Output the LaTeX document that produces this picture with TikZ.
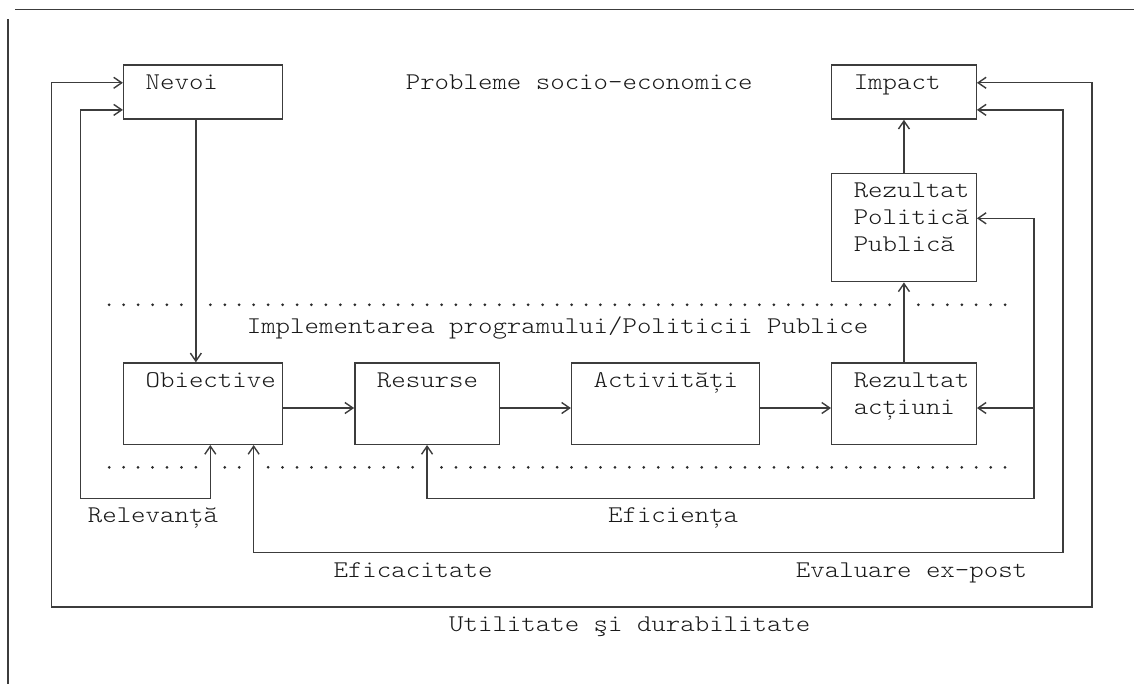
\documentclass[tikz,border=0pt]{standalone}
\usepackage{fontspec}
\usetikzlibrary{arrows.meta,fit}

\newfontfamily\asciifont{lmmonolt10-regular}[Extension=.otf,FakeStretch=1.147]

\definecolor{Ink}{HTML}{3C3C3C}
\definecolor{Dots}{HTML}{2A2A2A}

\begin{document}
\begin{tikzpicture}[x=7.225pt, y=-13.55pt, color=Ink,
  >={Straight Barb[length=4pt,width=5.5pt]},
  box/.style={draw=Ink, line width=0.7pt, inner sep=0pt},
  lbl/.style={anchor=base west, inner sep=0pt, text=black!90,
    font=\asciifont\fontsize{12}{13.55}\selectfont},
  link/.style={draw=Ink, line width=0.7pt},
  dots/.style={line width=1.5pt, line cap=round, dash pattern=on 0pt off 7.225pt, color=Dots}]

  \useasboundingbox (-0.554,-0.295) rectangle (77.92,24.91) ;

  %%%%%%%%%% Grid columns and rows %%%%%%%%%%
  \foreach \c in {3,5,13,14,17,29,62,71,73,75}
    \coordinate (c\c) at (\c,0) ;
  \foreach \r in {3,4,8,15}
    \coordinate (h\r) at (0,\r-0.24) ;
  \foreach \r in {18,20,22}
    \coordinate (u\r) at (0,\r+0.1) ;

  %%%%%%%%%% Frame %%%%%%%%%%
  \draw [link] (0,25.5) -- (0,0.42) ;
  \draw [link] (0.5,0.05) -- (78.5,0.05) ;

  %%%%%%%%%% Boxes %%%%%%%%%%
  \node [box, fit={(8,2.1) (19,4.1)}] (nevoi) {} ;
  \node [box, fit={(57,2.1) (67,4.1)}] (impact) {} ;
  \node [box, fit={(57,6.1) (67,10.1)}] (rpp) {} ;
  \node [box, fit={(8,13.1) (19,16.1)}] (obiective) {} ;
  \node [box, fit={(24,13.1) (34,16.1)}] (resurse) {} ;
  \node [box, fit={(39,13.1) (52,16.1)}] (activitati) {} ;
  \node [box, fit={(57,13.1) (67,16.1)}] (ractiuni) {} ;

  %%%%%%%%%% Labels %%%%%%%%%%
  \node [lbl] (t-nevoi) at (9.5,3) {Nevoi} ;
  \node [lbl] (t-probleme) at (27.5,3) {Probleme socio-economice} ;
  \node [lbl] (t-impact) at (58.5,3) {Impact} ;
  \node [lbl] (t-rpp1) at (58.5,7) {Rezultat} ;
  \node [lbl] (t-rpp2) at (58.5,8) {Politică} ;
  \node [lbl] (t-rpp3) at (58.5,9) {Publică} ;
  \node [lbl] (t-impl) at (16.5,12) {Implementarea programului/Politicii Publice} ;
  \node [lbl] (t-obiective) at (9.5,14) {Obiective} ;
  \node [lbl] (t-resurse) at (25.5,14) {Resurse} ;
  \node [lbl] (t-activitati) at (40.5,14) {Activități} ;
  \node [lbl] (t-ract1) at (58.5,14) {Rezultat} ;
  \node [lbl] (t-ract2) at (58.5,15) {acțiuni} ;
  \node [lbl] (t-relevanta) at (5.5,19) {Relevanță} ;
  \node [lbl] (t-eficienta) at (41.5,19) {Eficiența} ;
  \node [lbl] (t-eficacitate) at (22.5,21) {Eficacitate} ;
  \node [lbl] (t-expost) at (54.5,21) {Evaluare ex-post} ;
  \node [lbl] (t-utilitate) at (30.5,23) {Utilitate şi durabilitate} ;

  %%%%%%%%%% Dotted separators %%%%%%%%%%
  \foreach \a/\b/\r in {7/12/11, 14/61/11, 63/69/11, 7/13/17, 15/16/17, 18/28/17, 30/69/17}
    \draw [dots] (\a,\r-0.05) -- (\b+0.01,\r-0.05) ;

  %%%%%%%%%% Flow %%%%%%%%%%
  \draw [link, ->] (nevoi.south -| c13) -- (obiective.north -| c13) ;
  \draw [link, ->] (obiective.east |- h15) -- (resurse.west |- h15) ;
  \draw [link, ->] (resurse.east |- h15) -- (activitati.west |- h15) ;
  \draw [link, ->] (activitati.east |- h15) -- (ractiuni.west |- h15) ;
  \draw [link, ->] (ractiuni.north -| c62) -- (rpp.south -| c62) ;
  \draw [link, ->] (rpp.north -| c62) -- (impact.south -| c62) ;

  %%%%%%%%%% Evaluation brackets %%%%%%%%%%
  \draw [link, <->] (obiective.south -| c14) -- (c14 |- u18) -- (c5 |- u18) -- (c5 |- h4) -- (nevoi.west |- h4) ;
  \draw [link, <->] (resurse.south -| c29) -- (c29 |- u18) -- (c71 |- u18) -- (c71 |- h8) -- (rpp.east |- h8) ;
  \draw [link, ->] (c71 |- h15) -- (ractiuni.east |- h15) ;
  \draw [link, <->] (obiective.south -| c17) -- (c17 |- u20) -- (c73 |- u20) -- (c73 |- h4) -- (impact.east |- h4) ;
  \draw [link, <->] (nevoi.west |- h3) -- (c3 |- h3) -- (c3 |- u22) -- (c75 |- u22) -- (c75 |- h3) -- (impact.east |- h3) ;

\end{tikzpicture}
\end{document}
